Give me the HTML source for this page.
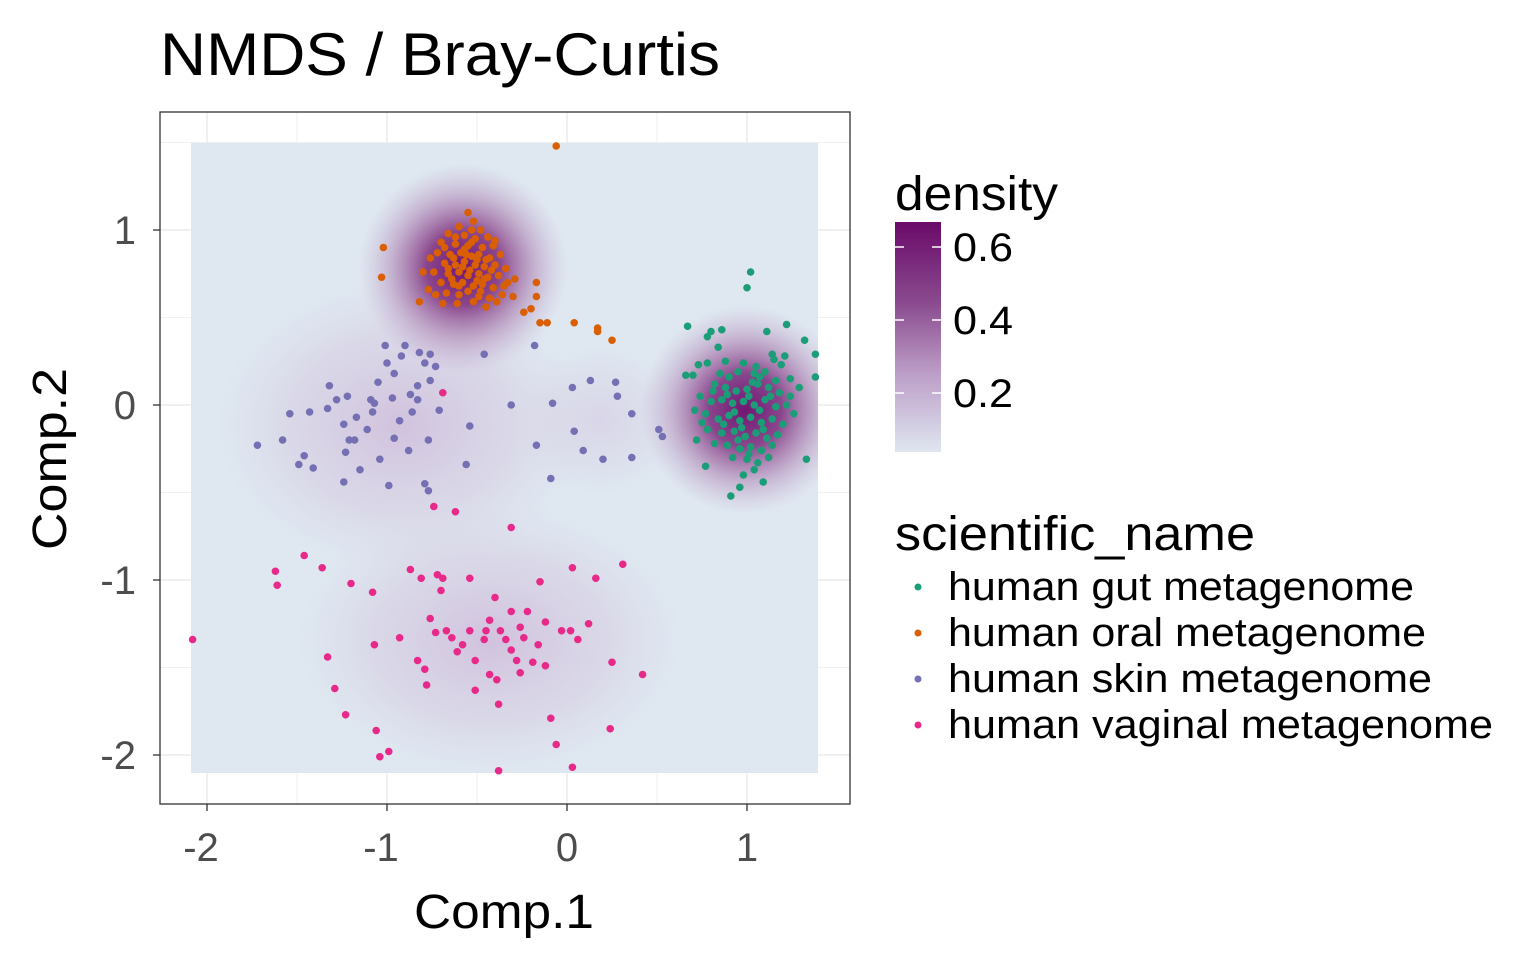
<!DOCTYPE html>
<html><head><meta charset="utf-8">
<style>
body{margin:0;background:#fff;width:1536px;height:960px;overflow:hidden;font-family:"Liberation Sans",Arial,sans-serif}
svg text{font-family:"Liberation Sans",Arial,sans-serif}
</style></head>
<body>
<svg id="chart" width="1536" height="960">
<defs>
<clipPath id="rc"><rect x="191" y="143" width="627" height="630"/></clipPath>
<radialGradient id="gOral"><stop offset="0" stop-color="#6e0e6e" stop-opacity="0.97"/><stop offset="0.35" stop-color="#7a2a7a" stop-opacity="0.85"/><stop offset="0.7" stop-color="#9a5a9a" stop-opacity="0.35"/><stop offset="1" stop-color="#b890c0" stop-opacity="0"/></radialGradient>
<radialGradient id="gGut"><stop offset="0" stop-color="#6e0e6e" stop-opacity="0.97"/><stop offset="0.35" stop-color="#7a2a7a" stop-opacity="0.85"/><stop offset="0.7" stop-color="#9a5a9a" stop-opacity="0.35"/><stop offset="1" stop-color="#b890c0" stop-opacity="0"/></radialGradient>
<radialGradient id="gFaint"><stop offset="0" stop-color="#c8a8d0" stop-opacity="0.6"/><stop offset="0.6" stop-color="#d0bcd8" stop-opacity="0.35"/><stop offset="1" stop-color="#d8d0e4" stop-opacity="0"/></radialGradient>
<linearGradient id="cbar" x1="0" y1="0" x2="0" y2="1"><stop offset="0" stop-color="#6a0a6a"/><stop offset="0.35" stop-color="#8a4a8e"/><stop offset="0.65" stop-color="#bb9cc6"/><stop offset="1" stop-color="#dfe6f0"/></linearGradient>
</defs>
<text x="160" y="75" font-size="60" textLength="560" lengthAdjust="spacingAndGlyphs" fill="#000">NMDS / Bray-Curtis</text>
<rect x="160" y="112" width="690" height="692" fill="#fff"/>
<g id="grid"></g>
<g clip-path="url(#rc)">
<rect x="191" y="143" width="627" height="630" fill="#dfe8f1"/>
<ellipse cx="400" cy="425" rx="190" ry="150" fill="url(#gFaint)"/>
<ellipse cx="490" cy="640" rx="200" ry="140" fill="url(#gFaint)"/>
<ellipse cx="600" cy="420" rx="90" ry="80" fill="url(#gFaint)" opacity="0.5"/>
<circle cx="463" cy="268" r="105" fill="url(#gOral)"/>
<circle cx="745" cy="410" r="105" fill="url(#gGut)"/>
</g>
<g id="pts"></g>
<rect x="160" y="112" width="690" height="692" fill="none" stroke="#333" stroke-width="1.3"/>
<g id="axes"></g>
<text x="414" y="928" font-size="48" textLength="180" lengthAdjust="spacingAndGlyphs" fill="#000">Comp.1</text>
<text transform="translate(66,550) rotate(-90)" font-size="48" textLength="182" lengthAdjust="spacingAndGlyphs" fill="#000">Comp.2</text>
<g>
<text x="895" y="210" font-size="48" textLength="163" lengthAdjust="spacingAndGlyphs">density</text>
<rect x="895" y="222" width="46" height="230" fill="url(#cbar)"/>
<g stroke="#fff" stroke-width="1.5"><line x1="895" y1="247" x2="904" y2="247"/><line x1="932" y1="247" x2="941" y2="247"/><line x1="895" y1="320" x2="904" y2="320"/><line x1="932" y1="320" x2="941" y2="320"/><line x1="895" y1="393" x2="904" y2="393"/><line x1="932" y1="393" x2="941" y2="393"/></g>
<text x="953" y="261" font-size="40" textLength="60" lengthAdjust="spacingAndGlyphs">0.6</text>
<text x="953" y="334" font-size="40" textLength="60" lengthAdjust="spacingAndGlyphs">0.4</text>
<text x="953" y="407" font-size="40" textLength="60" lengthAdjust="spacingAndGlyphs">0.2</text>
</g>
<g>
<text x="895" y="550" font-size="48" textLength="360" lengthAdjust="spacingAndGlyphs">scientific_name</text>
<g><circle cx="918" cy="587" r="3.5" fill="#1b9e77"/><text x="948" y="600" font-size="40" textLength="466" lengthAdjust="spacingAndGlyphs">human gut metagenome</text></g>
<g><circle cx="918" cy="633" r="3.5" fill="#d95f02"/><text x="948" y="646" font-size="40" textLength="478" lengthAdjust="spacingAndGlyphs">human oral metagenome</text></g>
<g><circle cx="918" cy="679" r="3.5" fill="#7570b3"/><text x="948" y="692" font-size="40" textLength="484" lengthAdjust="spacingAndGlyphs">human skin metagenome</text></g>
<g><circle cx="918" cy="725" r="3.5" fill="#e7298a"/><text x="948" y="738" font-size="40" textLength="545" lengthAdjust="spacingAndGlyphs">human vaginal metagenome</text></g>
</g>
</svg>
<script>
const xTicks=[-2,-1,0,1];
const yTicks=[1,0,-1,-2];
const skin=[[-1.72,-0.23],[-1.54,-0.05],[-1.58,-0.20],[-1.46,-0.29],[-1.49,-0.34],[-1.41,-0.36],[-1.43,-0.04],[-1.32,0.11],[-1.33,-0.02],[-1.28,0.03],[-1.22,0.05],[-1.24,-0.11],[-1.21,-0.20],[-1.23,-0.27],[-1.17,-0.07],[-1.15,-0.37],[-1.24,-0.44],[-1.09,0.03],[-1.07,0.01],[-1.05,0.13],[-1.01,0.34],[-1.00,0.24],[-0.96,0.18],[-0.92,0.28],[-0.90,0.34],[-0.87,0.06],[-0.86,-0.04],[-0.88,-0.26],[-0.83,0.11],[-0.82,0.30],[-0.79,0.24],[-0.76,0.29],[-0.76,0.14],[-0.73,0.22],[-0.77,-0.20],[-0.79,-0.45],[-0.77,-0.49],[-0.99,-0.46],[-0.96,-0.19],[-1.04,-0.31],[-1.11,-0.14],[-1.18,-0.20],[-1.08,-0.04],[-0.97,0.04],[-0.93,-0.09],[-0.83,0.03],[-0.71,-0.03],[-0.46,0.29],[-0.31,0.00],[-0.54,-0.12],[-0.56,-0.34],[-0.18,0.34],[-0.17,-0.23],[-0.08,0.01],[0.03,0.10],[0.04,-0.15],[0.13,0.14],[0.09,-0.26],[-0.09,-0.42],[0.20,-0.31],[0.27,0.13],[0.28,0.05],[0.36,-0.05],[0.36,-0.30],[0.51,-0.14],[0.53,-0.18]];
const vaginal=[[-2.08,-1.34],[-1.62,-0.95],[-1.61,-1.03],[-1.46,-0.86],[-1.36,-0.93],[-1.20,-1.02],[-1.08,-1.07],[-1.33,-1.44],[-1.29,-1.62],[-1.23,-1.77],[-1.07,-1.37],[-1.06,-1.86],[-1.04,-2.01],[-0.99,-1.98],[-0.93,-1.33],[-0.87,-0.94],[-0.81,-0.99],[-0.79,-1.51],[-0.78,-1.60],[-0.76,-1.22],[-0.72,-0.97],[-0.70,-1.06],[-0.69,-0.99],[-0.73,-1.30],[-0.67,-1.29],[-0.64,-1.33],[-0.61,-1.41],[-0.58,-1.37],[-0.54,-0.99],[-0.51,-1.46],[-0.46,-1.34],[-0.45,-1.29],[-0.51,-1.63],[-0.40,-1.10],[-0.43,-1.54],[-0.38,-1.71],[-0.38,-2.09],[-0.34,-1.34],[-0.31,-1.40],[-0.28,-1.46],[-0.26,-1.27],[-0.24,-1.33],[-0.22,-1.18],[-0.19,-1.47],[-0.16,-1.37],[-0.12,-1.49],[-0.09,-1.79],[-0.06,-1.94],[-0.15,-1.01],[-0.12,-1.24],[-0.03,-1.29],[0.02,-1.29],[0.03,-2.07],[0.06,-1.34],[0.12,-1.25],[0.16,-0.99],[0.03,-0.93],[0.24,-1.85],[0.25,-1.47],[0.31,-0.91],[0.42,-1.54],[-0.83,-1.46],[-0.39,-1.57],[-0.62,-0.61],[-0.74,-0.58],[-0.31,-0.70],[-0.69,0.07],[-0.54,-1.29],[-0.37,-1.29],[-0.31,-1.18],[-0.43,-1.23],[-0.26,-1.53]];
const oral=[[-0.06,1.48],[-1.02,0.90],[-1.03,0.73],[-0.15,0.47],[-0.11,0.47],[0.04,0.47],[0.17,0.44],[0.17,0.42],[0.25,0.37],[-0.24,0.53],[-0.20,0.55],[-0.17,0.62],[-0.17,0.70],[-0.82,0.59],[-0.69,0.58],[-0.77,0.66],
[-0.55,1.10],[-0.52,1.05],[-0.60,1.02],[-0.48,1.00],[-0.66,0.98],[-0.57,0.97],[-0.51,0.95],[-0.44,0.96],[-0.70,0.93],[-0.62,0.92],[-0.55,0.91],[-0.47,0.90],[-0.41,0.91],[-0.72,0.87],[-0.65,0.86],[-0.59,0.87],[-0.53,0.85],[-0.49,0.86],[-0.43,0.84],[-0.37,0.86],[-0.68,0.81],[-0.62,0.80],[-0.57,0.82],[-0.51,0.80],[-0.46,0.79],[-0.40,0.80],[-0.34,0.78],[-0.74,0.76],[-0.66,0.75],[-0.60,0.76],[-0.55,0.74],[-0.49,0.75],[-0.44,0.73],[-0.38,0.74],[-0.70,0.70],[-0.63,0.69],[-0.58,0.70],[-0.52,0.68],[-0.47,0.69],[-0.41,0.67],[-0.35,0.68],[-0.67,0.64],[-0.60,0.63],[-0.55,0.65],[-0.49,0.62],[-0.43,0.61],[-0.36,0.63],[-0.30,0.62],[-0.73,0.63],[-0.61,0.58],[-0.52,0.59],[-0.45,0.56],[-0.39,0.59],[-0.56,0.86],[-0.64,0.72],[-0.50,0.71],[-0.58,0.79],[-0.45,0.83],[-0.68,0.90],[-0.53,1.00],[-0.29,0.72],[-0.80,0.76],[-0.76,0.84],[-0.62,0.96],[-0.40,0.94],[-0.33,0.70],[-0.57,0.89],[-0.50,0.83],[-0.63,0.84],[-0.54,0.77],[-0.46,0.72],[-0.60,0.68],[-0.53,0.93],[-0.66,0.78],[-0.42,0.77],[-0.48,0.65]];
const gut=[[1.02,0.76],[1.00,0.67],[0.67,0.45],[1.22,0.46],[1.32,0.37],[1.38,0.29],[1.38,0.16],[1.33,-0.31],[0.77,-0.35],[0.91,-0.52],[0.96,-0.47],[0.66,0.17],
[0.78,0.39],[0.80,0.42],[0.86,0.43],[0.84,0.33],[1.11,0.42],[1.14,0.29],[1.15,0.26],[1.19,0.23],[1.21,0.28],[0.73,0.23],[0.78,0.24],[0.88,0.25],[0.95,0.19],[1.04,0.18],[1.07,0.16],[1.10,0.19],[0.70,0.17],[0.82,0.12],[0.88,0.10],[0.94,0.08],[1.00,0.09],[1.06,0.12],[1.12,0.10],[1.18,0.07],[1.24,0.05],[0.74,0.05],[0.80,0.02],[0.86,0.03],[0.92,0.01],[0.98,0.02],[1.04,0.00],[1.10,0.03],[1.16,-0.01],[1.22,0.00],[0.71,-0.03],[0.77,-0.05],[0.84,-0.08],[0.90,-0.06],[0.96,-0.09],[1.02,-0.07],[1.08,-0.10],[1.14,-0.08],[1.20,-0.11],[0.78,-0.14],[0.86,-0.16],[0.93,-0.15],[0.99,-0.18],[1.05,-0.16],[1.11,-0.19],[1.17,-0.17],[0.82,-0.22],[0.89,-0.23],[0.96,-0.25],[1.02,-0.24],[1.08,-0.26],[1.14,-0.23],[0.92,-0.30],[1.00,-0.31],[1.06,-0.33],[1.12,-0.30],[1.04,-0.37],[0.98,-0.40],[1.09,-0.44],[0.75,-0.10],[0.72,-0.20],[1.26,-0.05],[1.29,0.10],[1.24,0.15],[0.90,0.16],[0.98,0.24],[0.93,-0.04],[1.01,0.05],[1.07,-0.03],[0.85,0.18],[0.95,-0.20],[1.03,0.13],[0.89,0.06],[1.13,0.05],[0.97,-0.13],[1.09,-0.14],[0.87,-0.11],[1.01,-0.28],[1.16,0.14],[0.81,0.08],[1.05,0.22]];
const X=v=>567+180*v, Y=v=>405-175*v;
const NS='http://www.w3.org/2000/svg';
const grid=document.getElementById('grid'), axes=document.getElementById('axes'), pts=document.getElementById('pts');
function ln(p,x1,y1,x2,y2,c,w){const l=document.createElementNS(NS,'line');l.setAttribute('x1',x1);l.setAttribute('y1',y1);l.setAttribute('x2',x2);l.setAttribute('y2',y2);l.setAttribute('stroke',c);l.setAttribute('stroke-width',w);p.appendChild(l);return l;}
[-2,-1.5,-1,-0.5,0,0.5,1].forEach(v=>{const l=ln(grid,X(v),112,X(v),804,'#ebebeb',Number.isInteger(v)?1.5:0.8);

});
[1.5,1,0.5,0,-0.5,-1,-1.5,-2].forEach(v=>{const l=ln(grid,160,Y(v),850,Y(v),'#ebebeb',Number.isInteger(v)?1.5:0.8);

});
xTicks.forEach(v=>{ln(axes,X(v),804,X(v),811,'#333',1.3);const t=document.createElementNS(NS,'text');t.setAttribute('x',X(v)-(v<0?6:0));t.setAttribute('y',861);t.setAttribute('font-size','40');t.setAttribute('fill','#4d4d4d');t.setAttribute('text-anchor','middle');t.textContent=v<0?'-'+Math.abs(v):String(v);


axes.appendChild(t);});
yTicks.forEach(v=>{ln(axes,153,Y(v),160,Y(v),'#333',1.3);const t=document.createElementNS(NS,'text');t.setAttribute('x',136);t.setAttribute('y',Y(v)+14);t.setAttribute('font-size','40');t.setAttribute('fill','#4d4d4d');t.setAttribute('text-anchor','end');t.textContent=v<0?'-'+Math.abs(v):String(v);


axes.appendChild(t);});
function draw(arr,col,name){arr.forEach(p=>{const c=document.createElementNS(NS,'circle');c.setAttribute('cx',X(p[0]));c.setAttribute('cy',Y(p[1]));c.setAttribute('r',3.8);c.setAttribute('fill',col);


pts.appendChild(c);});}
draw(skin,'#7570b3','skin-point');
draw(vaginal,'#e7298a','vaginal-point');
draw(oral,'#d95f02','oral-point');
draw(gut,'#1b9e77','gut-point');
</script>
</body></html>
